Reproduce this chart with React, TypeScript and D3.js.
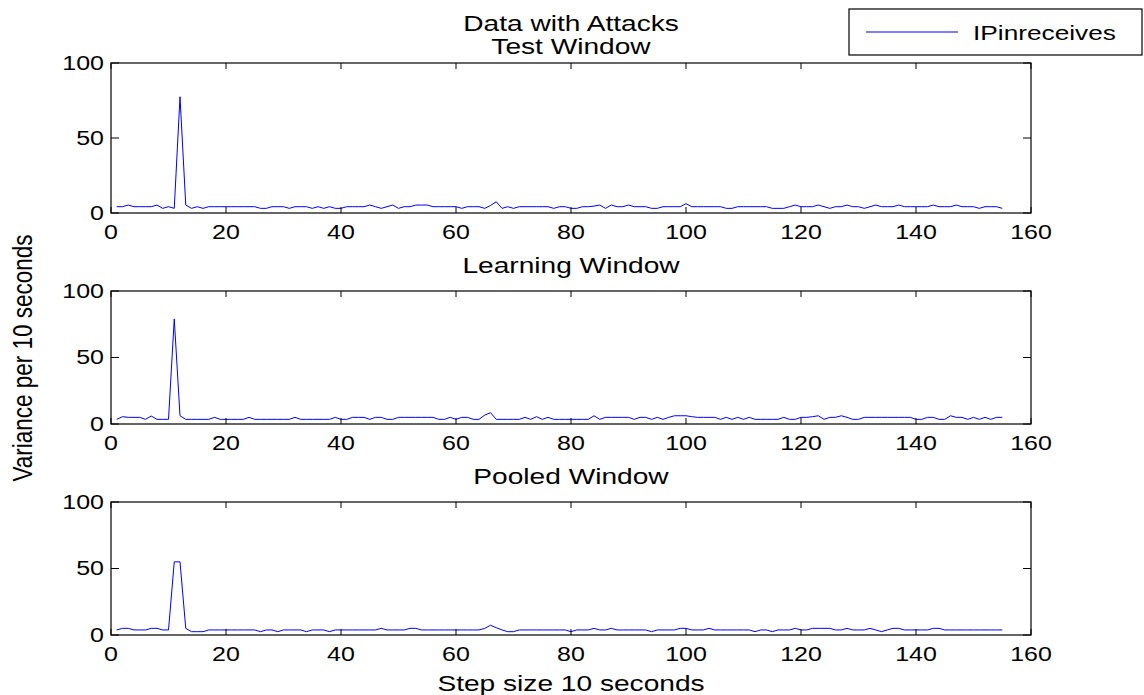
import React from "react";
import * as d3 from "d3";

// Variance of IPinreceives per 10-second step, for each window
const testWindow = [
  4.2, 4.2, 5.3, 4.2, 4.2, 4.2, 4.2, 5.3, 3.1, 4.2,
  3.1, 77.5, 5.3, 3.1, 4.2, 3.1, 4.2, 4.2, 4.2, 4.2,
  4.2, 4.2, 4.2, 4.2, 4.2, 3.1, 3.1, 4.2, 4.2, 4.2,
  3.1, 4.2, 4.2, 4.2, 3.1, 4.2, 3.1, 4.2, 3.1, 3.1,
  4.2, 4.2, 4.2, 4.2, 5.3, 4.2, 3.1, 4.2, 5.3, 3.1,
  4.2, 4.2, 5.3, 5.3, 5.3, 4.2, 4.2, 4.2, 4.2, 4.2,
  3.1, 4.2, 4.2, 4.2, 3.1, 5.0, 7.5, 3.1, 4.2, 3.1,
  4.2, 4.2, 4.2, 4.2, 4.2, 4.2, 3.1, 4.2, 4.2, 3.1,
  3.1, 4.2, 4.2, 4.6, 5.3, 3.1, 5.3, 4.2, 4.2, 5.3,
  4.2, 4.2, 4.2, 3.1, 3.1, 4.2, 4.2, 4.2, 4.2, 6.2,
  4.2, 4.2, 4.2, 4.2, 4.2, 4.2, 3.1, 3.1, 4.2, 4.2,
  4.2, 4.2, 4.2, 4.2, 3.1, 3.1, 3.1, 4.2, 5.3, 4.2,
  4.2, 4.2, 5.3, 4.2, 3.1, 4.2, 4.2, 5.3, 4.2, 4.2,
  3.1, 4.2, 5.3, 4.2, 4.2, 4.2, 5.3, 4.2, 4.2, 4.2,
  4.2, 4.2, 5.3, 4.2, 4.2, 4.2, 5.3, 4.2, 4.2, 4.2,
  3.1, 4.2, 4.2, 4.2, 3.1,
];

const learningWindow = [
  3.5, 5.5, 5.0, 5.0, 5.0, 3.5, 6.0, 3.5, 3.5, 3.5,
  79, 6.2, 3.5, 3.5, 3.5, 3.5, 3.5, 5.0, 3.5, 3.5,
  3.5, 3.5, 3.5, 5.0, 3.5, 3.5, 3.5, 3.5, 3.5, 3.5,
  3.5, 5.0, 3.5, 3.5, 3.5, 3.5, 3.5, 3.5, 5.0, 3.5,
  3.5, 5.0, 5.0, 5.0, 3.5, 5.0, 5.0, 3.5, 3.5, 5.0,
  5.0, 5.0, 5.0, 5.0, 5.0, 5.0, 3.5, 3.5, 5.0, 3.5,
  5.0, 5.0, 3.5, 3.5, 6.7, 8.5, 3.5, 3.5, 3.5, 3.5,
  3.5, 5.0, 3.5, 5.5, 3.5, 5.0, 3.5, 3.5, 3.5, 3.5,
  3.5, 3.5, 3.5, 6.2, 3.5, 5.0, 5.0, 5.0, 5.0, 5.0,
  3.5, 5.0, 5.0, 3.5, 5.0, 3.5, 5.0, 6.2, 6.2, 6.2,
  5.5, 5.0, 5.0, 5.0, 5.0, 3.5, 5.0, 3.5, 5.0, 3.5,
  5.0, 3.5, 3.5, 3.5, 3.5, 3.5, 5.0, 3.5, 3.5, 5.0,
  5.0, 5.5, 6.2, 3.5, 5.0, 5.0, 6.2, 5.0, 3.5, 3.5,
  5.0, 5.0, 5.0, 5.0, 5.0, 5.0, 5.0, 5.0, 5.0, 3.5,
  3.5, 5.0, 5.0, 3.5, 3.5, 6.2, 5.0, 5.0, 3.5, 5.0,
  3.5, 5.0, 3.5, 5.0, 5.0,
];

const pooledWindow = [
  3.8, 5.0, 5.0, 3.8, 3.8, 3.8, 5.0, 5.0, 3.8, 3.8,
  55, 55, 5.0, 2.5, 2.5, 2.5, 3.8, 3.8, 3.8, 3.8,
  3.8, 3.8, 3.8, 3.8, 3.8, 2.5, 3.8, 3.8, 2.5, 3.8,
  3.8, 3.8, 3.8, 2.5, 3.8, 3.8, 3.8, 2.5, 3.8, 3.8,
  3.8, 3.8, 3.8, 3.8, 3.8, 3.8, 5.0, 3.8, 3.8, 3.8,
  3.8, 5.0, 5.0, 3.8, 3.8, 3.8, 3.8, 3.8, 3.8, 3.8,
  3.8, 3.8, 3.8, 3.8, 5.0, 7.3, 5.5, 3.8, 2.5, 2.5,
  3.8, 3.8, 3.8, 3.8, 3.8, 3.8, 3.8, 3.8, 3.8, 2.5,
  3.8, 3.8, 3.8, 5.0, 3.8, 3.8, 5.0, 3.8, 3.8, 3.8,
  3.8, 3.8, 3.8, 2.5, 3.8, 3.8, 3.8, 3.8, 5.0, 5.0,
  3.8, 3.8, 3.8, 5.0, 3.8, 3.8, 3.8, 3.8, 3.8, 3.8,
  3.8, 2.5, 3.8, 3.8, 2.5, 3.8, 3.8, 3.8, 5.0, 3.8,
  3.8, 5.0, 5.0, 5.0, 5.0, 3.8, 3.8, 5.0, 3.8, 3.8,
  3.8, 5.0, 3.8, 2.5, 3.8, 5.0, 5.0, 3.8, 3.8, 3.8,
  3.8, 3.8, 5.0, 5.0, 3.8, 3.8, 3.8, 3.8, 3.8, 3.8,
  3.8, 3.8, 3.8, 3.8, 3.8,
];

const xTicks = [0, 20, 40, 60, 80, 100, 120, 140, 160];
const yTicks = [0, 50, 100];
const seriesName = "IPinreceives";
const figureTitle = "Data with Attacks";
const xLabel = "Step size 10 seconds";
const yLabel = "Variance per 10 seconds";

const panels = [
  { title: "Test Window", values: testWindow, top: 63, bottom: 213, titleY: 46 },
  { title: "Learning Window", values: learningWindow, top: 291, bottom: 424, titleY: 265 },
  { title: "Pooled Window", values: pooledWindow, top: 502, bottom: 635, titleY: 476 },
];

const W = 1144;
const H = 695;
const LEFT = 111;
const RIGHT = 1031;
const FONT = "'Liberation Sans', Arial, Helvetica, sans-serif";
const FS = 20; // tick labels
const FS_LABEL = 22.5; // titles and axis labels
const FS_LEGEND = 21;
const SX = 1.25; // glyphs are drawn wide
const LINE = "#0000ff";

function Txt({ x, y, anchor = "middle", children, rotate = 0, size = FS }: any) {
  const t = rotate
    ? `translate(${x},${y}) scale(${SX},1) rotate(${rotate})`
    : `translate(${x},${y}) scale(${SX},1)`;
  return (
    <text
      transform={t}
      textAnchor={anchor}
      dominantBaseline="central"
      fontFamily={FONT}
      fontSize={size}
      fill="#000"
    >
      {children}
    </text>
  );
}

function Panel({ title, values, top, bottom, titleY }: any) {
  const x = d3.scaleLinear().domain([0, 160]).range([LEFT, RIGHT]);
  const y = d3.scaleLinear().domain([0, 100]).range([bottom, top]);
  const line = d3
    .line<number>()
    .x((_, i) => x(i + 1))
    .y((v) => y(v));
  const tk = 6;
  return (
    <g>
      <Txt x={(LEFT + RIGHT) / 2} y={titleY} size={FS_LABEL}>{title}</Txt>
      <path d={line(values) || ""} fill="none" stroke={LINE} strokeWidth={1} />
      <rect
        x={LEFT}
        y={top}
        width={RIGHT - LEFT}
        height={bottom - top}
        fill="none"
        stroke="#000"
        strokeWidth={1.2}
      />
      {xTicks.map((t) => (
        <g key={"x" + t}>
          <line x1={x(t)} x2={x(t)} y1={bottom} y2={bottom - tk} stroke="#000" />
          <line x1={x(t)} x2={x(t)} y1={top} y2={top + tk} stroke="#000" />
          <Txt x={x(t)} y={bottom + 19}>{t}</Txt>
        </g>
      ))}
      {yTicks.map((t) => (
        <g key={"y" + t}>
          <line x1={LEFT} x2={LEFT + 8} y1={y(t)} y2={y(t)} stroke="#000" />
          <line x1={RIGHT} x2={RIGHT - 8} y1={y(t)} y2={y(t)} stroke="#000" />
          <Txt x={LEFT - 7} y={y(t)} anchor="end">{t}</Txt>
        </g>
      ))}
    </g>
  );
}

export default function App() {
  return (
    <svg
      width={W}
      height={H}
      style={{ position: "absolute", left: 0, top: 0, background: "#fff" }}
    >
      <rect width={W} height={H} fill="#fff" />
      <Txt x={(LEFT + RIGHT) / 2} y={23} size={FS_LABEL}>{figureTitle}</Txt>
      {panels.map((p) => (
        <Panel key={p.title} {...p} />
      ))}
      <Txt x={(LEFT + RIGHT) / 2} y={683} size={FS_LABEL}>{xLabel}</Txt>
      <Txt x={22} y={358} rotate={-90} size={FS_LABEL}>{yLabel}</Txt>
      <g>
        <rect x={849} y={9} width={293} height={46} fill="#fff" stroke="#000" strokeWidth={1.2} />
        <line x1={866} x2={958} y1={32} y2={32} stroke={LINE} strokeWidth={1} />
        <Txt x={973} y={32} anchor="start" size={FS_LEGEND}>{seriesName}</Txt>
      </g>
    </svg>
  );
}
